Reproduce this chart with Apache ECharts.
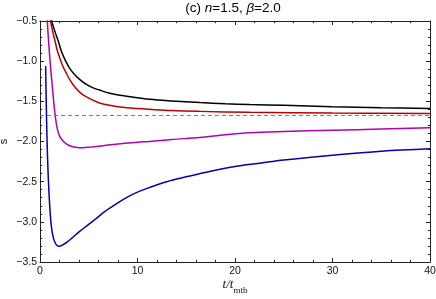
<!DOCTYPE html>
<html><head><meta charset="utf-8">
<script src="https://cdn.jsdelivr.net/npm/echarts@6/dist/echarts.min.js"></script>
<style>html,body{margin:0;padding:0;background:#fff}#c{width:436px;height:299px}</style>
</head><body><div id="c"></div>
<script>
// ---- data ----
const blackT = [1.0, 1.2, 1.5, 1.9, 2.2, 2.6, 3.05, 3.5, 4.0, 4.75, 5.4, 6.1, 7.15, 8.2, 10, 11.25, 13.5, 16.4, 19, 21.5, 25, 30, 35, 40];
const blackS = [-0.4, -0.5, -0.62, -0.76, -0.88, -0.99, -1.09, -1.16, -1.22, -1.29, -1.33, -1.36, -1.40, -1.425, -1.455, -1.475, -1.495, -1.516, -1.53, -1.54, -1.55, -1.566, -1.58, -1.59];

const redT = [0.95, 1.08, 1.25, 1.4, 1.6, 1.78, 2.0, 2.3, 2.7, 3.1, 3.5, 4.2, 5.0, 6.1, 7.15, 8.2, 10, 11.25, 13.5, 16.4, 21.5, 30, 40];
const redS = [-0.4, -0.5, -0.6, -0.68, -0.78, -0.87, -0.95, -1.05, -1.15, -1.24, -1.31, -1.40, -1.46, -1.52, -1.55, -1.57, -1.59, -1.60, -1.615, -1.625, -1.637, -1.645, -1.65];

const magentaT = [0.68, 0.75, 0.88, 1.0, 1.13, 1.27, 1.4, 1.54, 1.65, 1.8, 2.0, 2.3, 2.7, 3.2, 3.8, 4.4, 5.2, 6.0, 7.0, 8.5, 10, 11.25, 13.5, 16.4, 19, 21.5, 25, 30, 35, 40];
const magentaS = [-0.3, -0.5, -0.75, -0.95, -1.14, -1.32, -1.5, -1.66, -1.76, -1.855, -1.93, -1.985, -2.03, -2.06, -2.075, -2.078, -2.07, -2.06, -2.045, -2.025, -2.008, -2.0, -1.975, -1.95, -1.915, -1.89, -1.875, -1.86, -1.845, -1.83];

const blueT = [0.58, 0.61, 0.65, 0.71, 0.78, 0.86, 0.95, 1.05, 1.18, 1.35, 1.55, 1.75, 1.95, 2.3, 2.8, 3.3, 4.0, 4.9, 5.7, 6.6, 7.9, 9.0, 10, 11.3, 13, 15, 17.5, 20, 22.5, 25, 30, 35, 40];
const blueS = [-1.06, -1.3, -1.58, -1.92, -2.22, -2.48, -2.7, -2.9, -3.07, -3.19, -3.26, -3.295, -3.305, -3.29, -3.25, -3.2, -3.125, -3.04, -2.965, -2.875, -2.77, -2.69, -2.63, -2.57, -2.5, -2.44, -2.37, -2.31, -2.27, -2.23, -2.17, -2.12, -2.09];

const refLevel = -1.667;
const xTickLabels = [0, 10, 20, 30, 40];
const yTickLabels = [-3.5, -3.0, -2.5, -2.0, -1.5, -1.0, -0.5];

const zip = (a, b) => a.map((v, i) => [v, b[i]]);

const chart = echarts.init(document.getElementById('c'), null, {renderer: 'canvas'});
const axisCol = '#222';
const tickCommon = {show: true, inside: true, length: 4, lineStyle: {color: axisCol, width: 1}};
const minorCommon = {show: true, splitNumber: 5, length: 2.2, lineStyle: {color: axisCol, width: 1}};
const fmtY = v => {
  const t = yTickLabels.find(x => Math.abs(x - v) < 1e-6);
  return t === undefined ? '' : t.toFixed(1).replace('-', '\u2212');
};
const fmtX = v => xTickLabels.includes(Math.round(v)) ? String(Math.round(v)) : '';

const lineSeries = (name, t, s, color) => ({
  name, type: 'line', data: zip(t, s), showSymbol: false, symbol: 'none',
  smooth: 0.35, clip: true,
  lineStyle: {color, width: 1.5}, itemStyle: {color}, z: 3
});

chart.setOption({
  animation: false,
  backgroundColor: '#fff',
  grid: {left: 40, right: 6, top: 21, bottom: 37, containLabel: false, outerBoundsMode: 'none'},
  xAxis: [
    {type: 'value', min: 0, max: 40, interval: 10, position: 'bottom',
     axisLine: {show: true, onZero: false, lineStyle: {color: axisCol, width: 1}},
     axisTick: tickCommon, minorTick: minorCommon, splitLine: {show: false},
     axisLabel: {formatter: fmtX, fontSize: 10.5, color: '#111', margin: 4, fontFamily: 'Liberation Sans'},
     name: '{i|t/t}{s|mtb}', nameLocation: 'middle', nameGap: 13, nameMoveOverlap: false,
     nameTextStyle: {rich: {
       i: {fontFamily: 'Liberation Serif', fontStyle: 'italic', fontSize: 13, color: '#111', verticalAlign: 'middle', lineHeight: 16},
       s: {fontFamily: 'Liberation Serif', fontSize: 9, color: '#111', verticalAlign: 'bottom', lineHeight: 20}
     }}},
    {type: 'value', min: 0, max: 40, interval: 10, position: 'top',
     axisLine: {show: true, onZero: false, lineStyle: {color: axisCol, width: 1}},
     axisTick: tickCommon, minorTick: minorCommon, splitLine: {show: false},
     axisLabel: {show: false}}
  ],
  yAxis: [
    {type: 'value', min: -3.5, max: -0.5, interval: 0.5, position: 'left',
     axisLine: {show: true, onZero: false, lineStyle: {color: axisCol, width: 1}},
     axisTick: tickCommon, minorTick: minorCommon, splitLine: {show: false},
     axisLabel: {formatter: fmtY, fontSize: 10.5, color: '#111', margin: 3, fontFamily: 'Liberation Sans'},
     name: 's', nameLocation: 'middle', nameGap: 31, nameRotate: 90, nameMoveOverlap: false,
     nameTextStyle: {fontSize: 11, color: '#111', fontFamily: 'Liberation Sans'}},
    {type: 'value', min: -3.5, max: -0.5, interval: 0.5, position: 'right',
     axisLine: {show: true, onZero: false, lineStyle: {color: axisCol, width: 1}},
     axisTick: tickCommon, minorTick: minorCommon, splitLine: {show: false},
     axisLabel: {show: false}}
  ],
  graphic: [{
    type: 'text', x: 233, y: 8,
    style: {
      text: '{a|(c) }{i|n}{a|=1.5, }{i|\u03B2}{a|=2.0}',
      align: 'center', verticalAlign: 'middle',
      rich: {
        a: {fontFamily: 'Liberation Sans', fontSize: 13.5, fill: '#000'},
        i: {fontFamily: 'Liberation Sans', fontStyle: 'italic', fontSize: 13.5, fill: '#000'}
      }
    }
  }],
  series: [
    Object.assign(lineSeries('black', blackT, blackS, '#000000'), {
      markLine: {silent: true, symbol: 'none', label: {show: false},
        lineStyle: {color: '#707070', width: 0.9, type: [4, 3]},
        data: [{yAxis: refLevel}]}
    }),
    lineSeries('red', redT, redS, '#bb0000'),
    lineSeries('magenta', magentaT, magentaS, '#b400b4'),
    lineSeries('blue', blueT, blueS, '#0000b4')
  ]
});
</script>
</body></html>
